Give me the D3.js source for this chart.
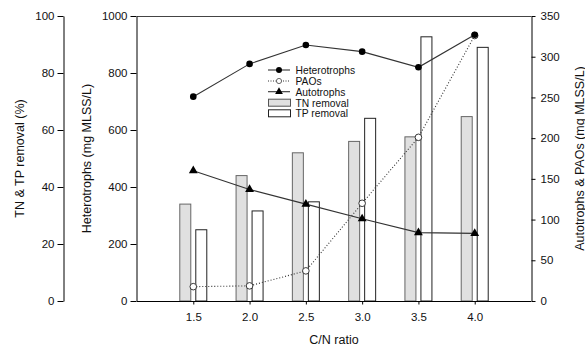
<!DOCTYPE html>
<html><head><meta charset="utf-8">
<script src="https://cdn.jsdelivr.net/npm/d3@7"></script>
<style>
body{margin:0;background:#fff;}
svg{display:block;font-family:"Liberation Sans",Arial,sans-serif;}
</style></head>
<body><svg id="c" width="585" height="348"></svg>
<script>
const cnRatio = [1.5, 2.0, 2.5, 3.0, 3.5, 4.0];
const heterotrophs = [717, 832, 898, 875, 820, 934];
const paos = [17.6, 18.6, 37, 120, 201, 326];
const autotrophs = [160, 137, 119, 101, 84, 83];
const tnRemoval = [34, 44, 52, 56, 57.6, 64.7];
const tpRemoval = [25, 31.6, 34.8, 64.1, 92.7, 89];
const xTicks = [1.5, 2.0, 2.5, 3.0, 3.5, 4.0];
const pctTicks = [0, 20, 40, 60, 80, 100];
const hetTicks = [0, 200, 400, 600, 800, 1000];
const rightTicks = [0, 50, 100, 150, 200, 250, 300, 350];

const svg = d3.select("#c");
const L = 137, R = 531, T = 16, B = 301;
const x = d3.scaleLinear().domain([1, 4.5]).range([L, R]);
const yPct = d3.scaleLinear().domain([0, 100]).range([B, T]);
const yHet = d3.scaleLinear().domain([0, 1000]).range([B, T]);
const yR = d3.scaleLinear().domain([0, 350]).range([B, T]);
const lineCol = "#333";
const tickFont = "11.5px", titleFont = "12.5px";
const plain = d3.format("d");

// bars
const bw = 11;
svg.append("g").selectAll("rect").data(cnRatio).join("rect")
  .attr("x", (d) => x(d) - 14 + 0.5).attr("width", bw)
  .attr("y", (d, i) => yPct(tnRemoval[i])).attr("height", (d, i) => B - yPct(tnRemoval[i]))
  .attr("fill", "#e0e0e0").attr("stroke", "#666").attr("stroke-width", 1);
svg.append("g").selectAll("rect").data(cnRatio).join("rect")
  .attr("x", (d) => x(d) + 2.5).attr("width", bw)
  .attr("y", (d, i) => yPct(tpRemoval[i])).attr("height", (d, i) => B - yPct(tpRemoval[i]))
  .attr("fill", "#fff").attr("stroke", "#222").attr("stroke-width", 1);

// frame top line
svg.append("line").attr("x1", L).attr("x2", R).attr("y1", T + 0.5).attr("y2", T + 0.5)
  .attr("stroke", "#444").attr("stroke-width", 1);

function styleAxis(g) {
  g.selectAll("path,line").attr("stroke", "#000");
  g.selectAll("text").attr("font-size", tickFont).attr("fill", "#111")
    .attr("font-family", "Liberation Sans, Arial, sans-serif");
}
// outer left axis
svg.append("g").attr("transform", "translate(63.5,0)")
  .call(d3.axisLeft(yPct).tickValues(pctTicks).tickFormat(plain).tickSize(6).tickSizeOuter(0).tickPadding(3))
  .call(styleAxis);
// inner left axis
svg.append("g").attr("transform", `translate(${L - 0.5},0)`)
  .call(d3.axisLeft(yHet).tickValues(hetTicks).tickFormat(plain).tickSize(6).tickSizeOuter(0).tickPadding(3))
  .call(styleAxis);
// right axis
svg.append("g").attr("transform", `translate(${R + 0.5},0)`)
  .call(d3.axisRight(yR).tickValues(rightTicks).tickFormat(plain).tickSize(4).tickSizeOuter(0).tickPadding(5))
  .call(styleAxis);
// bottom axis
svg.append("g").attr("transform", `translate(0,${B + 0.5})`)
  .call(d3.axisBottom(x).tickValues(xTicks).tickFormat(d3.format(".1f")).tickSize(3).tickSizeOuter(0).tickPadding(8))
  .call(styleAxis)
  .call(g => g.select(".domain").attr("d", `M${L},0H${R}`));

// axis titles
svg.append("text").attr("transform", `translate(24,${(T + B) / 2}) rotate(-90)`)
  .attr("text-anchor", "middle").attr("font-size", titleFont).attr("fill", "#111")
  .text("TN & TP removal (%)");
svg.append("text").attr("transform", `translate(90.5,${(T + B) / 2}) rotate(-90)`)
  .attr("text-anchor", "middle").attr("font-size", titleFont).attr("fill", "#111")
  .text("Heterotrophs (mg MLSS/L)");
svg.append("text").attr("transform", `translate(583.5,${(T + B) / 2}) rotate(-90)`)
  .attr("text-anchor", "middle").attr("font-size", titleFont).attr("fill", "#111")
  .text("Autotrophs & PAOs (mg MLSS/L)");
svg.append("text").attr("x", (L + R) / 2).attr("y", 344)
  .attr("text-anchor", "middle").attr("font-size", titleFont).attr("fill", "#111")
  .text("C/N ratio");

// lines
const hetLine = d3.line().x((d, i) => x(cnRatio[i])).y(d => yHet(d));
const rLine = d3.line().x((d, i) => x(cnRatio[i])).y(d => yR(d));
svg.append("path").attr("d", rLine(autotrophs)).attr("fill", "none").attr("stroke", lineCol).attr("stroke-width", 1.1);
svg.append("path").attr("d", rLine(paos)).attr("fill", "none").attr("stroke", "#333")
  .attr("stroke-width", 1.1).attr("stroke-dasharray", "1,2");
svg.append("path").attr("d", hetLine(heterotrophs)).attr("fill", "none").attr("stroke", lineCol).attr("stroke-width", 1.1);

const tri = d3.symbol().type(d3.symbolTriangle).size(34);
svg.append("g").selectAll("path").data(autotrophs).join("path")
  .attr("d", tri).attr("transform", (d, i) => `translate(${x(cnRatio[i])},${yR(d)})`).attr("fill", "#000");
svg.append("g").selectAll("circle").data(paos).join("circle")
  .attr("cx", (d, i) => x(cnRatio[i])).attr("cy", d => yR(d)).attr("r", 3.3)
  .attr("fill", "#fff").attr("stroke", "#222").attr("stroke-width", 0.9);
svg.append("g").selectAll("circle").data(heterotrophs).join("circle")
  .attr("cx", (d, i) => x(cnRatio[i])).attr("cy", d => yHet(d)).attr("r", 3.3).attr("fill", "#000");

// legend
const lg = svg.append("g");
const lx0 = 268, lx1 = 290, tx = 295.5;
const rows = [70, 81, 91.7, 102.7, 113.3];
const labels = ["Heterotrophs", "PAOs", "Autotrophs", "TN removal", "TP removal"];
lg.append("line").attr("x1", lx0).attr("x2", lx1).attr("y1", rows[0]).attr("y2", rows[0]).attr("stroke", lineCol).attr("stroke-width", 1.1);
lg.append("circle").attr("cx", (lx0 + lx1) / 2).attr("cy", rows[0]).attr("r", 3).attr("fill", "#000");
lg.append("line").attr("x1", lx0).attr("x2", lx1).attr("y1", rows[1]).attr("y2", rows[1]).attr("stroke", "#333").attr("stroke-width", 1).attr("stroke-dasharray", "1,1.5");
lg.append("circle").attr("cx", (lx0 + lx1) / 2).attr("cy", rows[1]).attr("r", 2.6).attr("fill", "#fff").attr("stroke", "#444").attr("stroke-width", 0.8);
lg.append("line").attr("x1", lx0).attr("x2", lx1).attr("y1", rows[2]).attr("y2", rows[2]).attr("stroke", lineCol).attr("stroke-width", 1.1);
lg.append("path").attr("d", d3.symbol().type(d3.symbolTriangle).size(26)).attr("transform", `translate(${(lx0 + lx1) / 2},${rows[2]})`).attr("fill", "#000");
lg.append("rect").attr("x", lx0 + 0.5).attr("y", rows[3] - 3.5).attr("width", lx1 - lx0).attr("height", 7)
  .attr("fill", "#e0e0e0").attr("stroke", "#555");
lg.append("rect").attr("x", lx0 + 0.5).attr("y", rows[4] - 3.5).attr("width", lx1 - lx0).attr("height", 7)
  .attr("fill", "#fff").attr("stroke", "#222");
lg.selectAll("text").data(labels).join("text")
  .attr("x", tx).attr("y", (d, i) => rows[i] + 3.8)
  .attr("font-size", "10.3px").attr("fill", "#111").text(d => d);
</script></body></html>
